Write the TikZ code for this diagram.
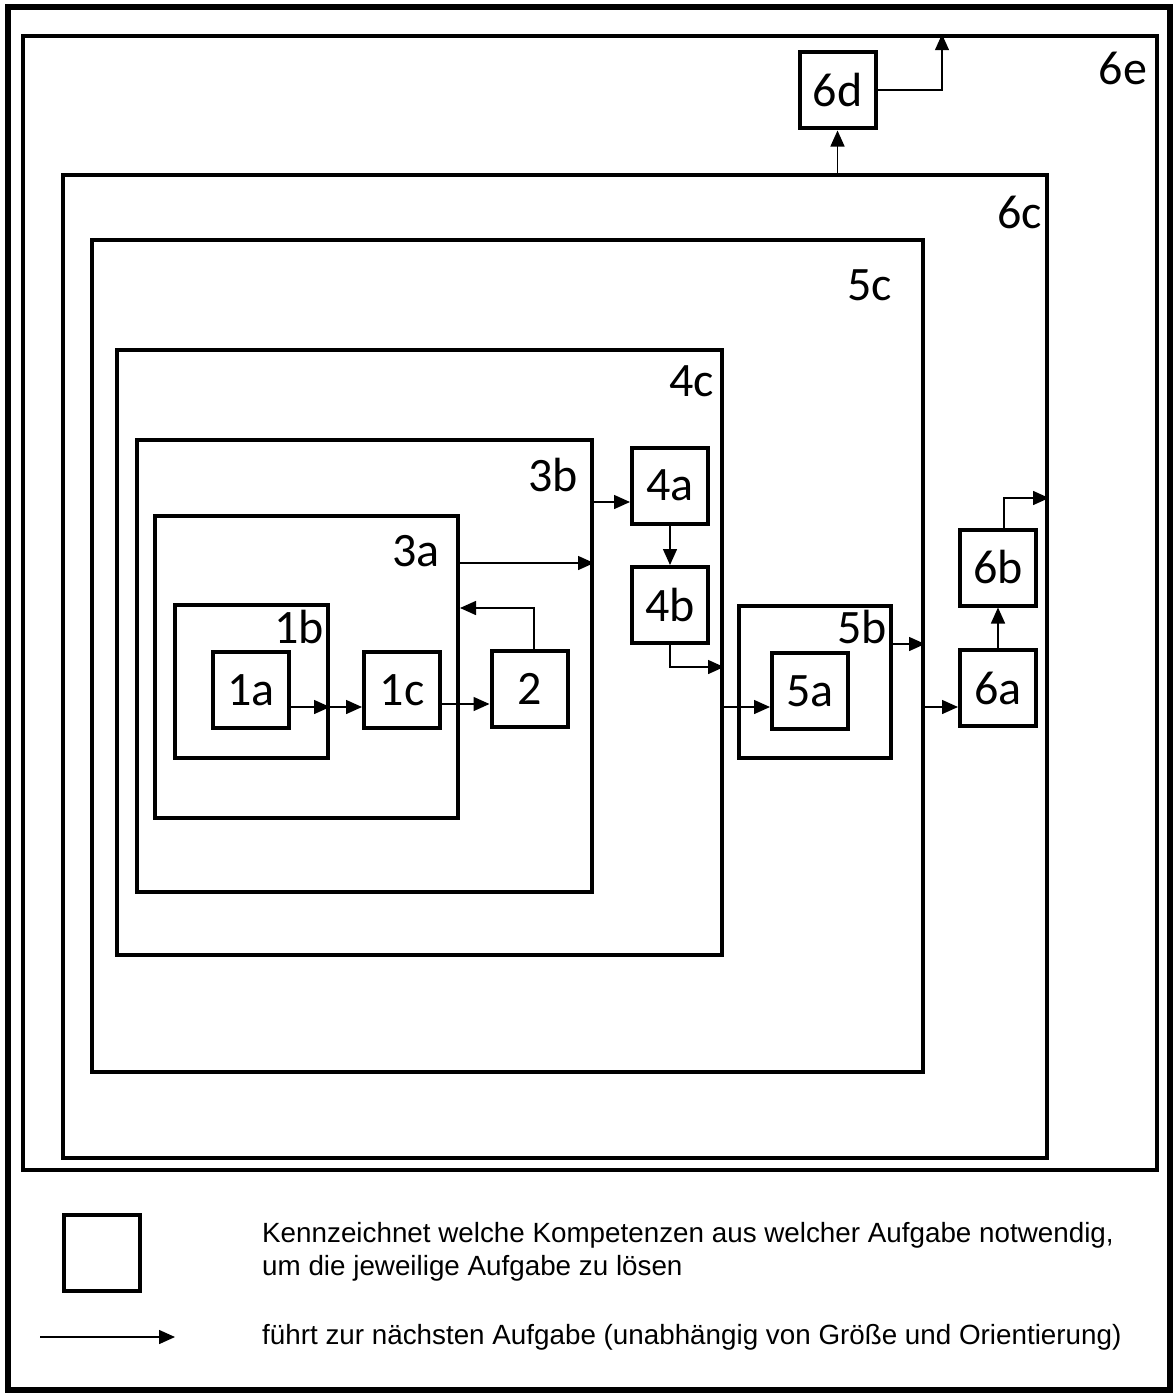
\documentclass[tikz,border=0pt]{standalone}
\usepackage{fontspec}
\setmainfont{Carlito}
\newfontfamily\legendenschrift{Liberation Sans}
\usetikzlibrary{arrows.meta, positioning, calc}

\begin{document}
\begin{tikzpicture}[
  x=1pt, y=-1pt,
  font=\fontsize{48}{52}\selectfont,
  rahmen/.style={draw, line width=4pt, inner sep=0pt},
  aufgabe/.style={draw, line width=4pt, minimum width=76pt, minimum height=76pt, inner sep=0pt},
  kennung/.style={anchor=base east, inner sep=0pt},
  pfeil/.style={-{Triangle[length=16pt, width=14pt]}, line width=1.5pt},
  legende/.style={font=\legendenschrift\fontsize{27.8}{33}\selectfont, align=left, anchor=west, inner sep=0pt}
]
\useasboundingbox (0,0) rectangle (1173,1394);

% Rahmen, von aussen nach innen
\node[draw, line width=6pt, minimum width=1162pt, minimum height=1383pt, inner sep=0pt] (aussen) at (589,698.5) {};
\node[rahmen, minimum width=1134pt, minimum height=1134pt] (f6e) at (589.75,603.25) {};
\node[rahmen, minimum width=984pt, minimum height=983pt] (f6c) at (555,666.5) {};
\node[rahmen, minimum width=831pt, minimum height=832pt] (f5c) at (507.5,656) {};
\node[rahmen, minimum width=605pt, minimum height=605pt] (f4c) at (419.5,652.5) {};
\node[rahmen, minimum width=455pt, minimum height=452pt] (f3b) at (364.5,666) {};
\node[rahmen, minimum width=303pt, minimum height=302pt] (f3a) at (306.5,667) {};
\node[rahmen, minimum width=153pt, minimum height=153pt] (f1b) at (251.5,681.5) {};
\node[rahmen, minimum width=152pt, minimum height=152pt] (f5b) at (815,682) {};

% Kennungen der Rahmen
\node[kennung] at ($(f6e.north east)+(-11.5,50.5)$) {6e};
\node[kennung] at ($(f6c.north east)+(-7,55)$) {6c};
\node[kennung] at ($(f5c.north east)+(-33,62)$) {5c};
\node[kennung] at ($(f4c.north east)+(-10,48)$) {4c};
\node[kennung] at ($(f3b.north east)+(-16,53)$) {3b};
\node[kennung] at ($(f3a.north east)+(-20,52)$) {3a};
\node[kennung] at ($(f1b.north east)+(-6,40)$) {1b};
\node[kennung] at ($(f5b.north east)+(-6,39)$) {5b};

% Aufgaben
\node[aufgabe] (a1)  at (251,690)   {1a};
\node[aufgabe] (a1c) at (402,690)   {1c};
\node[aufgabe] (a2)  at (529.5,688.5) {2};
\node[aufgabe] (a4a) at (670,485.5) {4a};
\node[aufgabe] (a4b) at (670,605)   {4b};
\node[aufgabe] (a5a) at (810,691)   {5a};
\node[aufgabe] (a6a) at (998,688)   {6a};
\node[aufgabe] (a6b) at (998,567.5) {6b};
\node[aufgabe] (a6d) at (837.5,90.5) {6d};

% Verbindungen
\draw[pfeil] (a1.east |- 0,707) -- (f1b.east |- 0,707);
\draw[pfeil] (f1b.east |- 0,707) -- (a1c.west |- 0,707);
\draw[pfeil] (a1c.east |- 0,704) -- (a2.west |- 0,704);
\draw[pfeil] (a2.north -| 534,0) |- (f3a.east |- 0,608);
\draw[pfeil] (f3a.east |- 0,563) -- (f3b.east |- 0,563);
\draw[pfeil] (f3b.east |- 0,502) -- (a4a.west |- 0,502);
\draw[pfeil] (a4a.south) -- (a4b.north);
\draw[pfeil] (a4b.south) |- (f4c.east |- 0,667);
\draw[pfeil] (f4c.east |- 0,707) -- (a5a.west |- 0,707);
\draw[pfeil] (f5b.east |- 0,644) -- (f5c.east |- 0,644);
\draw[pfeil] (f5c.east |- 0,707) -- (a6a.west |- 0,707);
\draw[pfeil] (a6a.north) -- (a6b.south);
\draw[pfeil] (a6b.north -| 1004,0) |- (f6c.east |- 0,498);
\draw[pfeil] (f6c.north -| a6d.south) -- (a6d.south);
\draw[pfeil] (a6d.east |- 0,90) -| (f6e.north -| 942,0);

% Legende
\node[aufgabe] (lbox) at (102,1253) {};
\node[legende] (ltext1) at (262,1252)
  {Kennzeichnet welche Kompetenzen aus welcher Aufgabe notwendig,\\um die jeweilige Aufgabe zu lösen};
\coordinate (lp1) at (40,1337);
\coordinate (lp2) at (175,1337);
\draw[pfeil] (lp1) -- (lp2);
\node[legende] (ltext2) at (262,1337)
  {führt zur nächsten Aufgabe (unabhängig von Größe und Orientierung)};

\end{tikzpicture}
\end{document}
